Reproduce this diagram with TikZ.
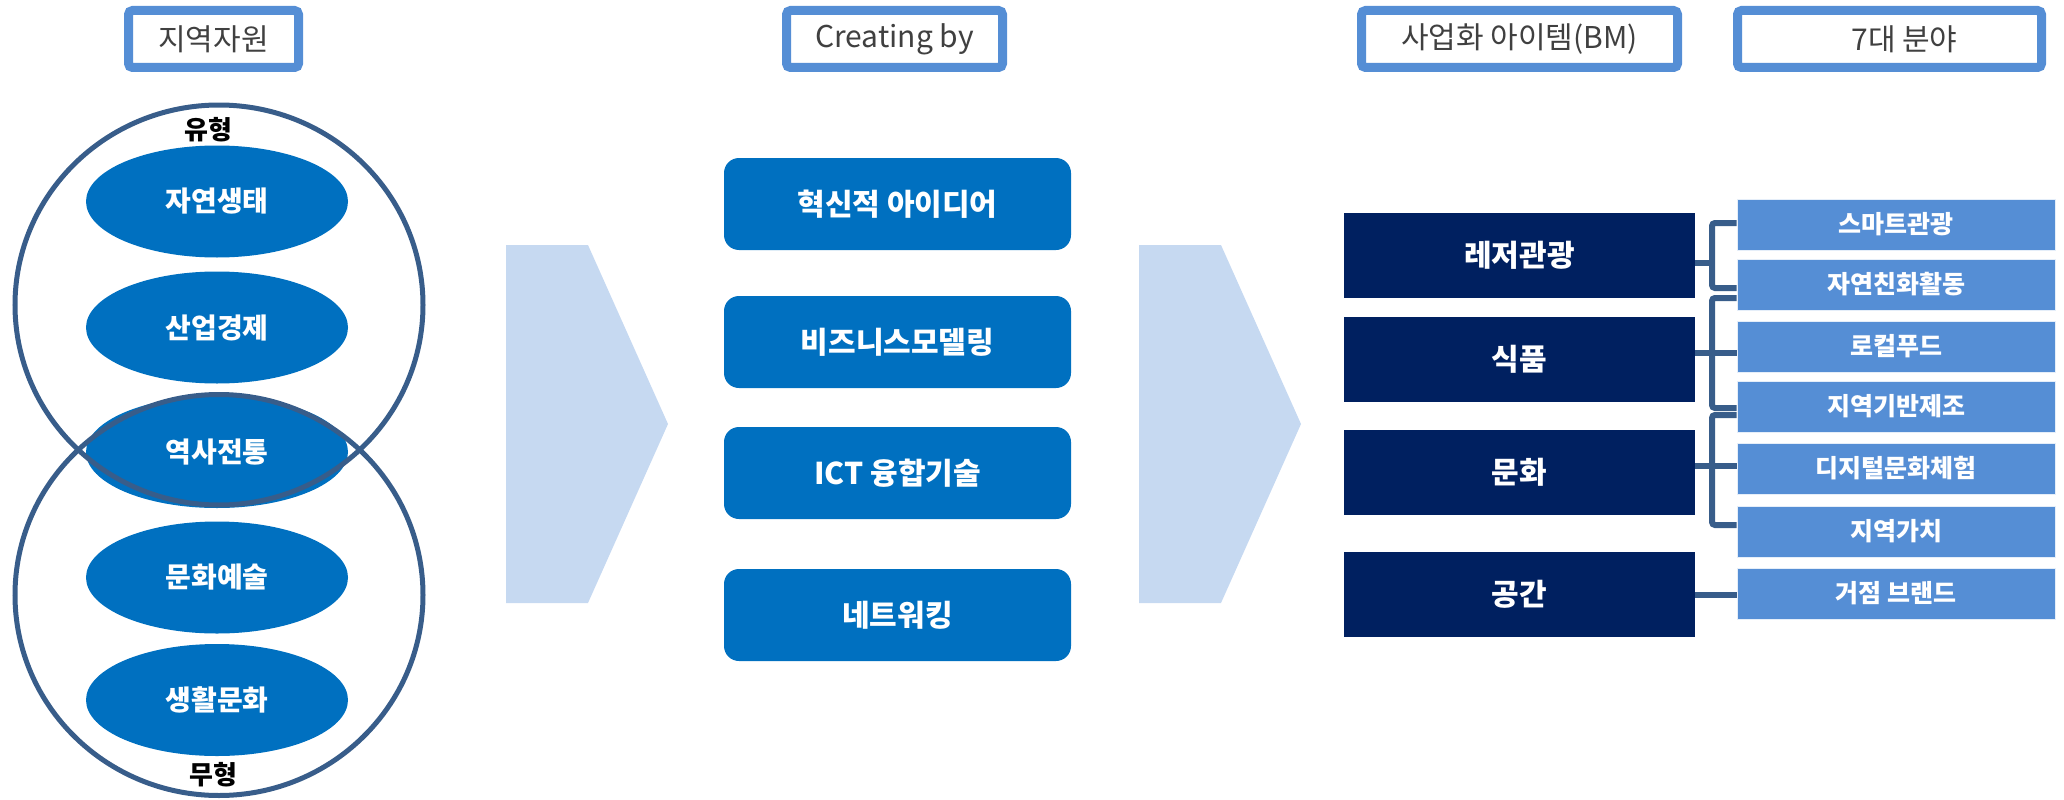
\documentclass[tikz,border=0pt]{standalone}
\usepackage{fontspec}
\setmainfont{Noto Sans CJK KR}
\usetikzlibrary{shapes.geometric}
\definecolor{hdr}{HTML}{558ED5}
\definecolor{hdrtxt}{HTML}{404040}
\definecolor{midblue}{HTML}{0070C0}
\definecolor{ringc}{HTML}{385D8A}
\definecolor{arrowc}{HTML}{C6D9F1}
\definecolor{navyc}{HTML}{002060}
\definecolor{fieldc}{HTML}{558ED5}
\begin{document}
\begin{tikzpicture}[x=1pt,y=-1pt,
  hdrbox/.style={draw=hdr, line width=9pt, rounded corners=4pt, fill=white,
    minimum height=57pt, inner sep=0pt, text=hdrtxt, font=\fontsize{30}{36}\selectfont},
  resell/.style={ellipse, fill=midblue, minimum width=262pt, minimum height=112pt,
    inner sep=0pt, text=white, font=\fontsize{28}{34}\selectfont\bfseries},
  bigring/.style={ellipse, draw=ringc, line width=5pt, minimum width=408pt, inner sep=0pt},
  kind/.style={text=black, font=\fontsize{26}{30}\selectfont\bfseries, inner sep=0pt},
  chev/.style={fill=arrowc, draw=none},
  midbox/.style={fill=midblue, rounded corners=15pt, minimum width=347pt, minimum height=92pt,
    inner sep=0pt, text=white, font=\fontsize{30}{36}\selectfont\bfseries},
  itembox/.style={fill=navyc, minimum width=351pt, minimum height=85pt, inner sep=0pt,
    text=white, font=\fontsize{30}{36}\selectfont\bfseries},
  fieldbox/.style={fill=fieldc, draw=white!85!fieldc, line width=0.8pt, minimum width=318pt, minimum height=51pt, inner sep=0pt,
    text=white, font=\fontsize{25}{30}\selectfont\bfseries},
  conn/.style={draw=ringc, line width=6pt, rounded corners=3pt}
]
\useasboundingbox (0,0) rectangle (2064,800);

% header boxes
\node[hdrbox, minimum width=170pt] (h1) at (213.5,39) {\raisebox{-3pt}{지역자원}};
\node[hdrbox, minimum width=216pt] (h2) at (894.5,39) {\raisebox{-3pt}{Creating by}};
\node[hdrbox, minimum width=316pt] (h3) at (1519.5,39) {\raisebox{-3pt}{사업화 아이템(BM)}};
\node[hdrbox, minimum width=304pt] (h4) at (1889.5,39) {\hspace*{30pt}\raisebox{-3pt}{7대 분야}};

% resource ellipses
\node[resell] (e1) at (217,201.5) {자연생태};
\node[resell] (e2) at (217,327.5) {산업경제};
\node[resell] (e3) at (217,452) {역사전통};
\node[resell] (e4) at (217,577.5) {문화예술};
\node[resell] (e5) at (217,700) {생활문화};

% big rings
\node[bigring, minimum height=400pt] (tangible) at (219,305) {};
\node[bigring, minimum height=401pt] (intangible) at (219,595) {};
\node[kind] (t1) at (208,130) {유형};
\node[kind] (t2) at (213,775) {무형};

% chevrons
\path[chev] (506,245) -- (588,245) -- (668,424) -- (588,603) -- (506,603) -- cycle;
\path[chev] (1139,245) -- (1221,245) -- (1301,424) -- (1221,603) -- (1139,603) -- cycle;

% creating by boxes
\node[midbox] (m1) at (897.5,204) {혁신적 아이디어};
\node[midbox] (m2) at (897.5,342) {비즈니스모델링};
\node[midbox] (m3) at (897.5,473) {ICT 융합기술};
\node[midbox] (m4) at (897.5,615) {네트워킹};

% business items
\node[itembox] (lei) at (1519.5,255.5) {레저관광};
\node[itembox] (food) at (1519.5,359) {식품};
\node[itembox] (cult) at (1519.5,472) {문화};
\node[itembox] (space) at (1519.5,594.5) {공간};

% seven fields
\node[fieldbox] (f1) at (1896,224.5) {스마트관광};
\node[fieldbox] (f2) at (1896,284.5) {자연친화활동};
\node[fieldbox] (f3) at (1896,346.5) {로컬푸드};
\node[fieldbox] (f4) at (1896,406.5) {지역기반제조};
\node[fieldbox] (f5) at (1896,468.5) {디지털문화체험};
\node[fieldbox] (f6) at (1896,531.5) {지역가치};
\node[fieldbox] (f7) at (1896,593.5) {거점 브랜드};

% connectors
\coordinate (bx) at (1712,0);
\draw[conn] (lei.east |- 0,263) -- (bx |- 0,263);
\draw[conn] (f1.west |- 0,223) -- (bx |- 0,223) -- (bx |- 0,288) -- (f2.west |- 0,288);

\draw[conn] (food.east |- 0,353) -- (f3.west |- 0,353);
\draw[conn] (f2.west |- 0,298) -- (bx |- 0,298) -- (bx |- 0,408) -- (f4.west |- 0,408);

\draw[conn] (cult.east |- 0,466) -- (f5.west |- 0,466);
\draw[conn] (f4.west |- 0,415) -- (bx |- 0,415) -- (bx |- 0,525) -- (f6.west |- 0,525);

\draw[conn] (space.east |- 0,595) -- (f7.west |- 0,595);
\end{tikzpicture}
\end{document}
